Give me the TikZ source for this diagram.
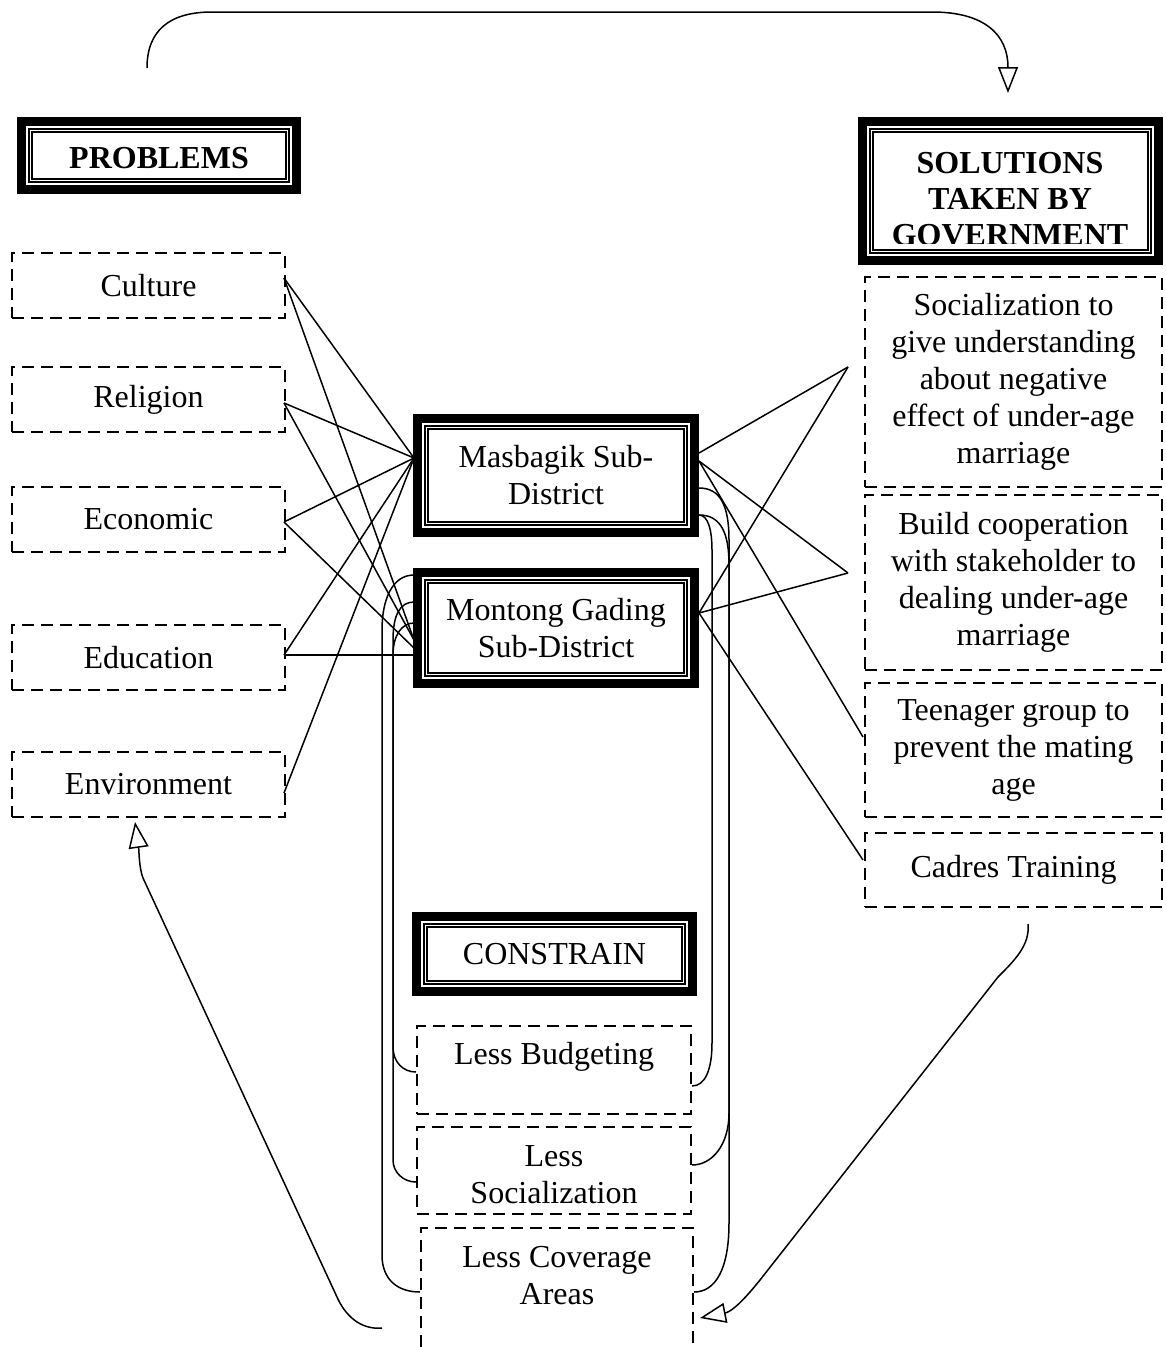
\documentclass[tikz,border=0pt]{standalone}
\usepackage{fontspec}
\setmainfont{Liberation Serif}
\usetikzlibrary{arrows.meta,calc}
\begin{document}
\begin{tikzpicture}[x=1pt,y=-1pt,
  every node/.style={font=\fontsize{32}{37}\selectfont, align=center, inner sep=0pt, outer sep=0pt},
  tframe/.style={draw, line width=9pt},
  dbox/.style={draw, line width=2.2pt, dash pattern=on 12pt off 7pt},
  dline/.style={line width=2.2pt, dash pattern=on 12pt off 7pt},
  conn/.style={line width=1.5pt},
  arr/.style={conn, -{Triangle[open, length=26pt, width=20pt]}}]
\useasboundingbox (0,0) rectangle (1165,1347);
\coordinate (pb) at (0,1347);

% framed headers
\node[tframe, minimum width=275pt, minimum height=68pt] (prob) at (159,155.5) {};
\node[font=\bfseries\fontsize{32}{37}\selectfont] (probt) at (159,158) {PROBLEMS};
\node[tframe, minimum width=296pt, minimum height=139pt] (sol) at (1010.5,191) {};
\begin{scope}
\clip (866,125) rectangle (1155,243);
\node[font=\bfseries\fontsize{32}{36}\selectfont] (solt) at (1010,199) {SOLUTIONS\\TAKEN BY\\GOVERNMENT};
\end{scope}
\node[tframe, minimum width=277pt, minimum height=114pt] (mas) at (556,475.5) {};
\node (mast) at (556,475) {Masbagik Sub-\\District};
\node[tframe, minimum width=277pt, minimum height=111pt] (mon) at (556,628) {};
\node (mont) at (556,628) {Montong Gading\\Sub-District};
\node[tframe, minimum width=276pt, minimum height=75pt] (con) at (554.5,954) {};
\node (cont) at (554.5,954) {CONSTRAIN};

\foreach \n in {prob,sol,mas,mon,con}{
  \draw[line width=1.1pt] ([shift={(7.5,7.5)}]\n.north west) rectangle ([shift={(-7.5,-7.5)}]\n.south east);
  \draw[line width=1.1pt] ([shift={(10.5,10.5)}]\n.north west) rectangle ([shift={(-10.5,-10.5)}]\n.south east);
}

% problems
\node[dbox, minimum width=273pt, minimum height=65pt] (cul) at (148.5,285.5) {Culture};
\node[dbox, minimum width=273pt, minimum height=65pt] (rel) at (148.5,399.5) {Religion};
\node[dbox, minimum width=273pt, minimum height=65pt] (eco) at (148.5,519.5) {Economic};
\node[dbox, minimum width=273pt, minimum height=65pt] (edu) at (148.5,657.5) {Education};
\node[dbox, minimum width=273pt, minimum height=65pt] (env) at (148.5,784.5) {Environment};

% solutions
\node[dbox, minimum width=297pt, minimum height=210pt] (s1) at (1013.5,382) {Socialization to\\give understanding\\about negative\\effect of under-age\\marriage};
\node[dbox, minimum width=297pt, minimum height=175pt] (s2) at (1013.5,582.5) {Build cooperation\\with stakeholder to\\dealing under-age\\marriage};
\node[dbox, minimum width=297pt, minimum height=134pt] (s3) at (1013.5,750) {Teenager group to\\prevent the mating\\age};
\node[dbox, minimum width=297pt, minimum height=74pt] (s4) at (1013.5,870) {Cadres Training};

% constraints
\node[dbox, minimum width=274pt, minimum height=88pt] (lb) at (554,1070) {};
\node (lbt) at (554,1057) {Less Budgeting};
\node[dbox, minimum width=274pt, minimum height=87pt] (ls) at (554,1170.5) {};
\node (lst) at (554,1175) {Less\\Socialization};
\node[minimum width=272pt, minimum height=119pt] (lc) at (557,1287.5) {};
\draw[dline] (lc.north west |- pb) -- (lc.north west) -- (lc.north east) -- (lc.north east |- pb);
\node (lct) at (557,1276) {Less Coverage\\Areas};

% connection points
\coordinate (pCul) at (284,278);
\coordinate (pRel) at (284,403);
\coordinate (pEco) at (284,522);
\coordinate (pEdu) at (284,655);
\coordinate (pEnv) at (284,793);
\coordinate (mL) at (414,458);
\coordinate (monL1) at (414,640);
\coordinate (monL2) at (414,648);
\coordinate (monL3) at (414,655);
\coordinate (mR1) at (699,453);
\coordinate (mR2) at (699,461);
\coordinate (monR) at (699,613);
\coordinate (cS1) at (848,367);
\coordinate (cS2) at (848,573);
\coordinate (cS3) at (863,737);
\coordinate (cS4) at (863,860);

\foreach \p in {pCul,pRel,pEco,pEdu,pEnv} \draw[conn] (\p) -- (mL);
\draw[conn] (pCul) -- (monL1);
\draw[conn] (pRel) -- (monL1);
\draw[conn] (pEco) -- (monL2);
\draw[conn] (pEdu) -- (monL3);

\draw[conn] (mR1) -- (cS1);
\draw[conn] (mR2) -- (cS2);
\draw[conn] (mR2) -- (cS3);
\draw[conn] (monR) -- (cS1);
\draw[conn] (monR) -- (cS2);
\draw[conn] (monR) -- (cS4);

% loops to constraints
\coordinate (mR3) at (699,488);
\coordinate (mR4) at (699,515);
\coordinate (lbR) at (692,1086);
\coordinate (lsR) at (692,1165);
\coordinate (lcR) at (694,1292);
\coordinate (monA) at (414,575);
\coordinate (monB) at (414,602);
\coordinate (monC) at (414,623);
\coordinate (lbL) at (416,1072);
\coordinate (lsL) at (416,1182);
\coordinate (lcL) at (420,1292);

\draw[conn] (mR3) .. controls (720,488) and (729,505) .. (729,540) -- (729,1223) .. controls (729,1270) and (715,1292) .. (lcR);
\draw[conn] (mR4) .. controls (708,515) and (712,530) .. (712,550) -- (712,1043) .. controls (712,1070) and (705,1086) .. (lbR);
\draw[conn] (mR4) .. controls (722,515) and (729,535) .. (729,565) -- (729,1113) .. controls (729,1145) and (712,1165) .. (lsR);
\draw[conn] (monA) .. controls (392,575) and (382,600) .. (382,630) -- (382,1255) .. controls (382,1280) and (398,1292) .. (lcL);
\draw[conn] (monB) .. controls (400,602) and (393,615) .. (393,640) -- (393,1047) .. controls (393,1062) and (403,1072) .. (lbL);
\draw[conn] (monC) .. controls (402,623) and (393,635) .. (393,655) -- (393,1160) .. controls (393,1172) and (403,1182) .. (lsL);

% feedback arrows
\coordinate (tA) at (147,68);
\coordinate (tB) at (1008,93);
\draw[arr] (tA) .. controls (147,30) and (170,12) .. (212,12) -- (932,12) .. controls (985,12) and (1008,35) .. (tB);
\coordinate (rA) at (1028,924);
\coordinate (rB) at (700,1318);
\draw[arr] (rA) .. controls (1030,945) and (1015,960) .. (998,977) -- (760,1280) .. controls (740,1305) and (730,1312) .. (rB);
\coordinate (lA) at (382,1328);
\coordinate (lB) at (135,822);
\draw[arr] (lA) .. controls (360,1330) and (345,1315) .. (337,1297) -- (143,878) .. controls (139,868) and (139,850) .. (lB);
\end{tikzpicture}
\end{document}
